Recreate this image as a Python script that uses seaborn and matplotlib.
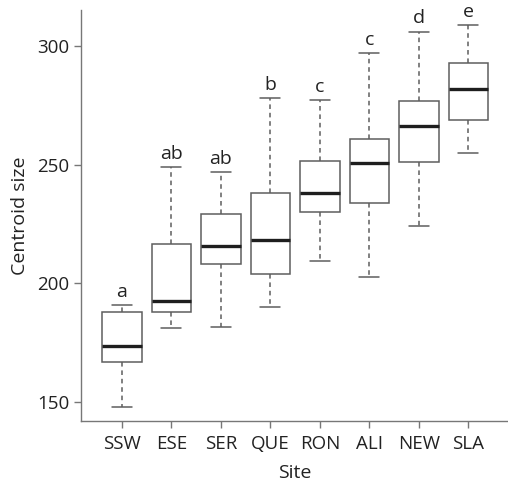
import numpy as np
import pandas as pd
import matplotlib
matplotlib.use("Agg")
import matplotlib.pyplot as plt
import seaborn as sns

# Sites and the letters from the post-hoc groups
sites = ["SSW", "ESE", "SER", "QUE", "RON", "ALI", "NEW", "SLA"]
letters = ["a", "ab", "ab", "b", "c", "c", "d", "e"]

# Five-number summaries: min, q1, median, q3, max
ssw = [148.0, 166.8, 173.5, 188.0, 191.0]
ese = [181.2, 187.8, 192.4, 216.7, 249.1]
ser = [181.7, 208.0, 215.7, 229.2, 246.9]
que = [189.9, 203.9, 218.4, 238.2, 278.2]
ron = [209.4, 229.9, 238.1, 251.8, 277.4]
ali = [202.5, 234.0, 250.7, 260.9, 297.2]
new = [224.0, 251.0, 266.4, 277.1, 306.2]
sla = [255.0, 268.7, 281.8, 293.0, 309.0]

groups = [ssw, ese, ser, que, ron, ali, new, sla]
df = pd.DataFrame({
    "Site": np.repeat(sites, 5),
    "size": np.concatenate(groups),
})

sns.set_style("ticks")
plt.rcParams["font.family"] = ["Open Sans", "DejaVu Sans"]

fig = plt.figure(figsize=(5.08, 4.86), dpi=100)
ax = fig.add_axes([0.159, 0.134, 0.841, 0.845])

line_col = "#5e5e5e"
sns.boxplot(
    data=df, x="Site", y="size", order=sites, ax=ax,
    whis=np.inf, width=0.8, color="white", linecolor=line_col, linewidth=1.1,
    whiskerprops={"linestyle": (0, (3, 2.5))},
    medianprops={"color": "#1e1e1e", "linewidth": 2.4},
)

# group letters above the upper whiskers
for i, (g, lab) in enumerate(zip(groups, letters)):
    ax.annotate(lab, (i, max(g)), xytext=(0, 3), textcoords="offset points",
                ha="center", va="bottom", fontsize=14, color="#222222")

ax.set_xlim(-0.83, 7.8)
ax.set_ylim(142, 315.2)
ax.set_yticks([150, 200, 250, 300])
ax.set_xlabel("Site", fontsize=14, color="#222222", labelpad=8)
ax.set_ylabel("Centroid size", fontsize=14, color="#222222", labelpad=6)

for side in ["top", "right"]:
    ax.spines[side].set_visible(False)
for side in ["left", "bottom"]:
    ax.spines[side].set_color("#777777")
    ax.spines[side].set_linewidth(1.0)
ax.tick_params(colors="#777777", length=5, width=1.0, labelsize=13.5,
               labelcolor="#222222", pad=3)
ax.tick_params(axis="x", pad=5)

fig.savefig("out.png", dpi=100)
